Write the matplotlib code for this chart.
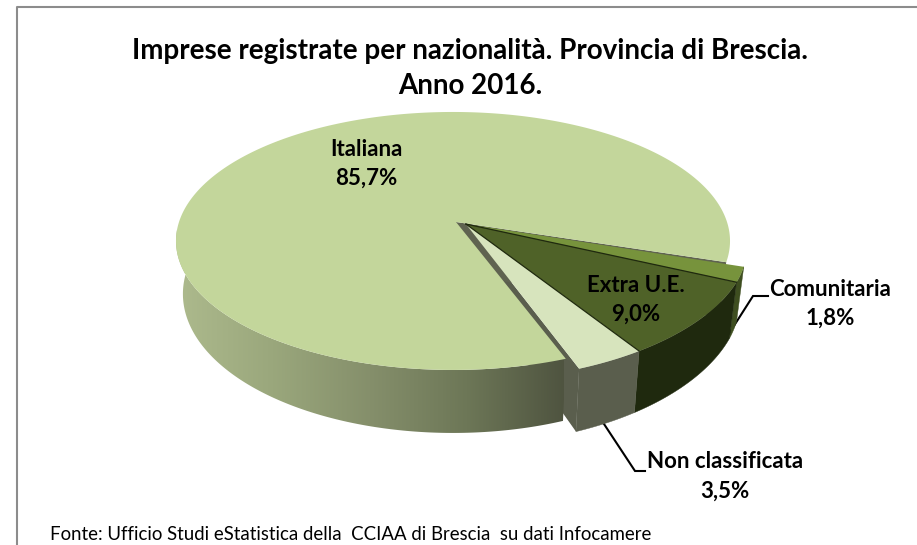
import numpy as np
import matplotlib
matplotlib.use('Agg')
import matplotlib.pyplot as plt
from matplotlib.patches import Polygon
from matplotlib.colors import LinearSegmentedColormap

# data
labels = ['Italiana', 'Comunitaria', 'Extra U.E.', 'Non classificata']
values = [85.7, 1.8, 9.0, 3.5]
value_labels = ['85,7%', '1,8%', '9,0%', '3,5%']
title_lines = ['Imprese registrate per nazionalità. Provincia di Brescia.', 'Anno 2016.']
source = 'Fonte: Ufficio Studi eStatistica della  CCIAA di Brescia  su dati Infocamere'

top_cols = ['#c3d69b', '#77933c', '#4f6228', '#d7e4bd']
wall_cols = ['#8a9670', '#3e4e20', '#1f290e', '#5a5e4d']

plt.rcParams['font.family'] = ['Lato', 'DejaVu Sans']

# perspective of the pie plane, pixels
cx, cy = 453, 222
R, B, k = 274, 126.2, 0.147
shrink = 0.975
start = 290.8   # where Italiana begins, going clockwise
apex_dx = 3     # the tip sits a bit right of the ellipse middle


def proj(X, Y):
    w = 1 + k*Y
    return cx + R*X/w, cy - B*Y/w


def arc(a0, a1, s0=(0, 0), s1=None):
    # s0, s1: how far the slice is pulled out at each end
    if s1 is None:
        s1 = s0
    n = max(int(abs(a1-a0))*2, 4)
    t = np.linspace(0, 1, n)
    a = np.radians(a0 + (a1-a0)*t)
    sx = s0[0] + (s1[0]-s0[0])*t
    sy = s0[1] + (s1[1]-s0[1])*t
    x, y = proj(np.cos(a)+sx, np.sin(a)+sy)
    return np.column_stack((x, y))


def below(p):
    # same points on the bottom of the pie, wall is shorter further back
    q = p.copy()
    q[:, 0] = cx + (q[:, 0]-cx)*shrink
    q[:, 1] = q[:, 1] + (63 - 7*(370-q[:, 1])/90)
    return q


def wall(p):
    return np.vstack((p, below(p)[::-1]))


def center(shift=(0, 0)):
    x, y = proj(shift[0], shift[1])
    return np.array([[x+apex_dx, y]])


fig = plt.figure(figsize=(9.17, 5.45), dpi=100)
ax = fig.add_axes([0, 0, 1, 1])

# angles of the slices from the values
ang = [start]
for v in values:
    ang.append(ang[-1]-v*3.6)

tip = (0.036, -0.016)
# pull at ang[1], ang[2], ang[3], ang[4]
pull = [(0.056, -0.033), (0.055, -0.036), (0.04, -0.054), (0.038, -0.058)]

# non classificata cut wall, seen in the gap
a_non = np.vstack((center(tip), arc(ang[4], ang[4], pull[3])[:1]))
ax.add_patch(Polygon(wall(a_non), closed=True, fc=wall_cols[3], ec='none', zorder=1))

# main cut wall at the top of the gap
a_cut = np.vstack((center(), arc(ang[1], ang[1])[:1]))
ax.add_patch(Polygon(wall(a_cut), closed=True, fc='#5f6350', ec='none', zorder=1))

# main outer wall with gradient
main_front = arc(180, ang[0])
wall_poly = Polygon(wall(main_front), closed=True, fc='none', ec='none', transform=ax.transData)
ax.add_patch(wall_poly)
grad = LinearSegmentedColormap.from_list('wall', ['#adba8d', '#9aa77c', '#858f6b', '#6d7757', '#4f5440'])
im = ax.imshow(np.linspace(0, 1, 256).reshape(1, -1), cmap=grad, aspect='auto',
               extent=(176, 564, 440, 230), zorder=2)
im.set_clip_path(wall_poly)

# main top
main_arc = arc(ang[0], ang[1])
ax.add_patch(Polygon(np.vstack((center(), main_arc)), closed=True, fc=top_cols[0], ec='none', zorder=3))

# moved slices: walls then tops
for i in [1, 2, 3]:
    p = arc(ang[i], ang[i+1], pull[i-1], pull[i])
    ax.add_patch(Polygon(wall(p), closed=True, fc=wall_cols[i], ec=wall_cols[i], lw=0.3, zorder=4))
for i in [1, 2, 3]:
    p = arc(ang[i], ang[i+1], pull[i-1], pull[i])
    ax.add_patch(Polygon(np.vstack((center(tip), p)), closed=True, fc=top_cols[i], ec='none', zorder=5))

# dark lines on the straight sides of Extra U.E.
for j in [1, 2]:
    p = np.vstack((center(tip), arc(ang[j+1], ang[j+1], pull[j])[:1]))
    ax.plot(p[:, 0], p[:, 1], color=wall_cols[2], lw=0.9, zorder=6)

# leader lines
ax.plot([730, 753, 768], [332, 296, 296], color='black', lw=1.5, zorder=3, solid_joinstyle='miter')
ax.plot([604, 635, 645], [424, 471, 471], color='black', lw=1.5, zorder=3, solid_joinstyle='miter')

# frame, only top and left are in the picture
ax.plot([17, 17, 917], [545, 7, 7], color='#8c8c8c', lw=1.5, zorder=1)

# text
ax.text(470, 51, title_lines[0], ha='center', va='center', fontsize=20, fontweight='bold')
ax.text(470, 86, title_lines[1], ha='center', va='center', fontsize=20, fontweight='bold')
pos = [(366, 149), (830, 289), (636, 285), (725, 462)]
for i in range(4):
    ax.text(pos[i][0], pos[i][1], labels[i], ha='center', va='center', fontsize=16, fontweight='bold', zorder=7)
    ax.text(pos[i][0], pos[i][1]+29, value_labels[i], ha='center', va='center', fontsize=16, fontweight='bold', zorder=7)
ax.text(50, 534, source, ha='left', va='center', fontsize=13.4)

ax.set_xlim(0, 917)
ax.set_ylim(545, 0)
ax.axis('off')
fig.savefig('out.png', dpi=100)
